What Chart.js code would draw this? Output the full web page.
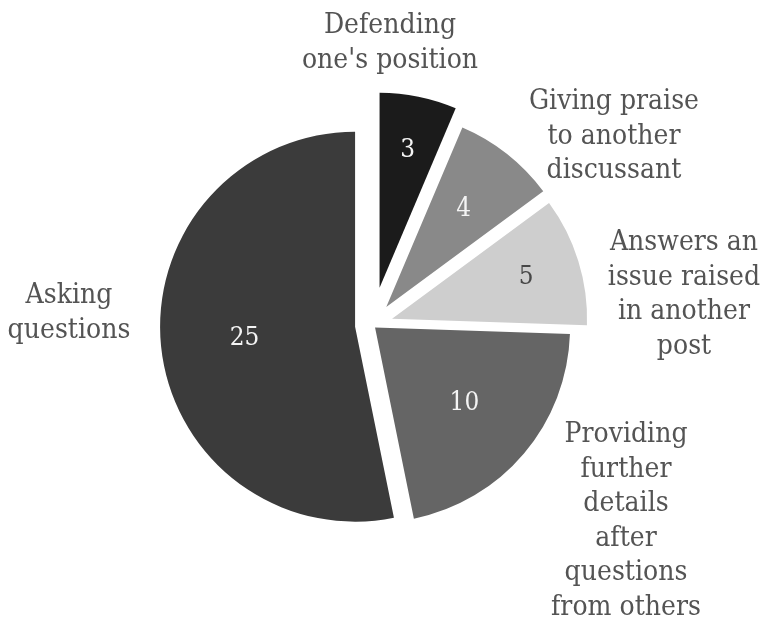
<!DOCTYPE html>
<html>
<head>
<meta charset="utf-8">
<title>Types of posts</title>
<script src="https://cdn.jsdelivr.net/npm/chart.js@4.4.0/dist/chart.umd.min.js"></script>
<style>
  html, body { margin: 0; padding: 0; background: #fff; }
  #grafico { display: block; }
</style>
</head>
<body>
<canvas id="grafico" width="763" height="626"></canvas>
<script>
// categorias: each label already split in the lines shown on the chart
var categorias = [
  ["Defending", "one's position"],
  ["Giving praise", "to another", "discussant"],
  ["Answers an", "issue raised", "in another", "post"],
  ["Providing", "further", "details", "after", "questions", "from others"],
  ["Asking", "questions"]
];
var valores = [3, 4, 5, 10, 25];

var colores = ['#1b1b1b', '#898989', '#cecece', '#656565', '#3b3b3b'];
var coloresNum = ['#f4f4f4', '#f4f4f4', '#474747', '#f4f4f4', '#f4f4f4'];

// how far each slice is pulled out (px) and where its number sits (fraction of radius)
var separacion = [38, 23, 21, 4, 17];
var radioNum = [0.72, 0.64, 0.72, 0.6, 0.57];
// outside labels: x centre and first baseline, relative to the pie centre
var posEtiqueta = [[18, -292], [242, -216], [312, -75], [254, 117], [-303, -22]];
var interlinea = 34.5;

var separar = {
  id: 'separar',
  afterDatasetUpdate: function(chart, args) {
    args.meta.data.forEach(function(arc, i) {
      var mid = (arc.startAngle + arc.endAngle) / 2;
      arc.x += Math.cos(mid) * separacion[i];
      arc.y += Math.sin(mid) * separacion[i];
    });
  }
};

// text in the original is a bit taller and narrower than DejaVu Serif
function texto(ctx, t, x, y) {
  ctx.save();
  ctx.translate(x, y);
  ctx.scale(0.97, 1.1);
  ctx.fillText(t, 0, 0);
  ctx.restore();
}

var etiquetas = {
  id: 'etiquetas',
  afterDatasetsDraw: function(chart) {
    var ctx = chart.ctx;
    var meta = chart.getDatasetMeta(0);
    var area = chart.chartArea;
    var cx = (area.left + area.right) / 2;
    var cy = (area.top + area.bottom) / 2;
    ctx.save();
    ctx.textAlign = 'center';

    // numbers inside the slices
    ctx.font = '24px "DejaVu Serif"';
    ctx.textBaseline = 'middle';
    meta.data.forEach(function(arc, i) {
      var mid = (arc.startAngle + arc.endAngle) / 2;
      var r = arc.outerRadius * radioNum[i];
      ctx.fillStyle = coloresNum[i];
      texto(ctx, String(valores[i]), arc.x + Math.cos(mid) * r, arc.y + Math.sin(mid) * r);
    });

    // category names outside
    ctx.font = '26px "DejaVu Serif"';
    ctx.textBaseline = 'alphabetic';
    ctx.fillStyle = '#545454';
    for (var i = 0; i < categorias.length; i++) {
      var p = posEtiqueta[i];
      for (var j = 0; j < categorias[i].length; j++) {
        texto(ctx, categorias[i][j], cx + p[0], cy + p[1] + j * interlinea);
      }
    }
    ctx.restore();
  }
};

var ctx = document.getElementById("grafico").getContext("2d");
var grafico = new Chart(ctx, {
  type: 'pie',
  data: {
    labels: categorias.map(function(c) { return c.join(' '); }),
    datasets: [{
      data: valores,
      backgroundColor: colores,
      borderWidth: 0
    }]
  },
  options: {
    responsive: false,
    animation: false,
    layout: {
      padding: { left: 177, top: 130, right: 196, bottom: 106 }
    },
    plugins: {
      legend: { display: false },
      tooltip: { enabled: false }
    }
  },
  plugins: [separar, etiquetas]
});
</script>
</body>
</html>
